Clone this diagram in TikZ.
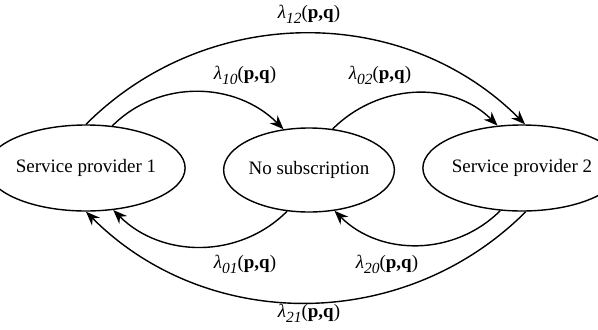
\documentclass[tikz,border=0pt]{standalone}
\usepackage{fontspec}
\setmainfont{Liberation Serif}
\usetikzlibrary{shapes.geometric,arrows.meta}
\newcommand{\rate}[1]{\textit{λ}\raisebox{-0.55ex}{\fontsize{8.8}{9}\selectfont\itshape #1}(\textbf{p,q})}
\begin{document}
\begin{tikzpicture}[every node/.style={font=\fontsize{10.8}{13}\selectfont},
  state/.style={draw,ellipse,thick,inner sep=0pt,minimum height=1.72cm},
  trans/.style={-{Stealth[length=2.8mm,width=2.2mm]},thick},
  lab/.style={inner sep=1pt}]
  \useasboundingbox (0,0) rectangle (11.96,-6.58);
  \node[state,minimum width=3.16cm] (sp1) at (1.72,-3.36) {Service provider 1};
  \node[state,minimum width=3.12cm,minimum height=1.68cm] (nosub) at (6.18,-3.40) {No subscription};
  \node[state,minimum width=3.0cm] (sp2) at (10.44,-3.36) {Service provider 2};
  % upper arcs
  \draw[trans] (sp1.58) to[out=45,in=135] (nosub.122);
  \draw[trans] (nosub.60) to[out=45,in=135] (sp2.120);
  \draw[trans] (sp1.90) to[out=45,in=135] (sp2.86);
  % lower arcs
  \draw[trans] (nosub.242) to[out=-135,in=-45] (sp1.303);
  \draw[trans] (sp2.243) to[out=-135,in=-45] (nosub.302);
  \draw[trans] (sp2.275) to[out=-135,in=-45] (sp1.270);
  % labels
  \node[lab] (l10) at (4.9,-1.5) {\rate{10}};
  \node[lab] (l02) at (7.6,-1.5) {\rate{02}};
  \node[lab] (l12) at (6.18,-0.28) {\rate{12}};
  \node[lab] (l01) at (4.9,-5.28) {\rate{01}};
  \node[lab] (l20) at (7.74,-5.28) {\rate{20}};
  \node[lab] (l21) at (6.18,-6.26) {\rate{21}};
\end{tikzpicture}
\end{document}
